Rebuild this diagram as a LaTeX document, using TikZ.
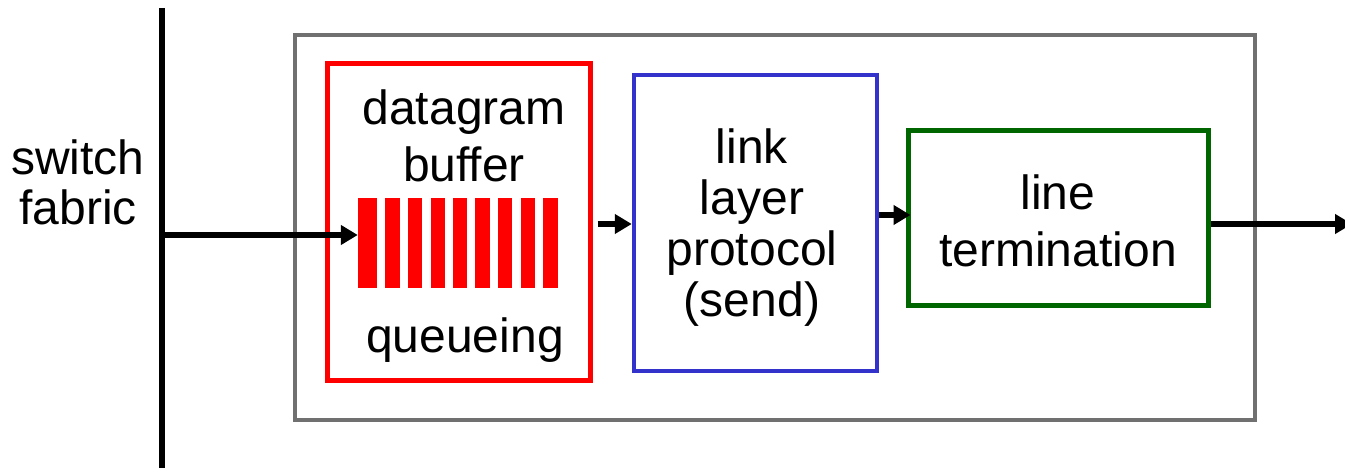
\documentclass[tikz,border=0pt]{standalone}
\usepackage{fontspec}
\setmainfont{Liberation Sans}
\usetikzlibrary{arrows.meta}
\definecolor{boxgray}{RGB}{112,112,112}
\definecolor{boxblue}{RGB}{51,51,204}
\definecolor{boxgreen}{RGB}{0,102,0}
\begin{document}
\begin{tikzpicture}[x=1pt,y=-1pt,
  lbl/.style={font=\fontsize{48}{51}\selectfont, align=center, inner sep=0pt},
  widelbl/.style={font=\fontsize{48}{57}\selectfont, align=center, inner sep=0pt},
  frame/.style={draw, rectangle, inner sep=0pt},
  arr/.style={line width=5.5pt, -{Triangle[length=17pt,width=19pt]}},
  bar/.style={fill=red}
]
\useasboundingbox (0,0) rectangle (1345,468);
% fabric line
\draw[line width=5.5pt] (162,8) coordinate (ftop) -- (162,468) coordinate (fbot);
\node[lbl] (fab) at (78,182) {switch\\[-1pt]fabric};
% outer gray box
\node[frame, draw=boxgray, line width=4pt, minimum width=960pt, minimum height=385pt] (port) at (775,227.5) {};
% red buffer box
\node[frame, draw=red, line width=5pt, minimum width=263pt, minimum height=316pt] (buf) at (458.5,222) {};
\node[widelbl] (dgb) at (464,136) {datagram\\buffer};
\node[lbl] (que) at (465,340) {queueing};
\foreach \a/\b in {358/377,385/400,408/422,431/445,453/467,475/490,498/512,521/535,543/558}
  \fill[bar] (\a,198) rectangle (\b,288);
\node[inner sep=0pt, minimum width=200pt, minimum height=90pt] (bars) at (458,243) {};
% blue link layer box
\node[frame, draw=boxblue, line width=4.5pt, minimum width=243pt, minimum height=296pt] (link) at (755.5,223) {};
\node[lbl] (linkt) at (752,228) {link\\layer\\protocol\\(send)};
% green line termination box
\node[frame, draw=boxgreen, line width=5pt, minimum width=300pt, minimum height=174pt] (line) at (1058,218) {};
\node[widelbl] (linet) at (1058,221) {line\\termination};
% arrows
\coordinate (a1s) at (162,235);
\coordinate (a4e) at (1352,224);
\draw[arr] (a1s) -- (bars.west |- a1s);
\draw[arr] ([xshift=5pt]buf.east |- 0,224) -- (link.west |- 0,224);
\draw[arr] (link.east |- 0,215) -- ([xshift=5pt]line.west |- 0,215);
\draw[arr] (line.east |- a4e) -- (a4e);
\end{tikzpicture}
\end{document}
